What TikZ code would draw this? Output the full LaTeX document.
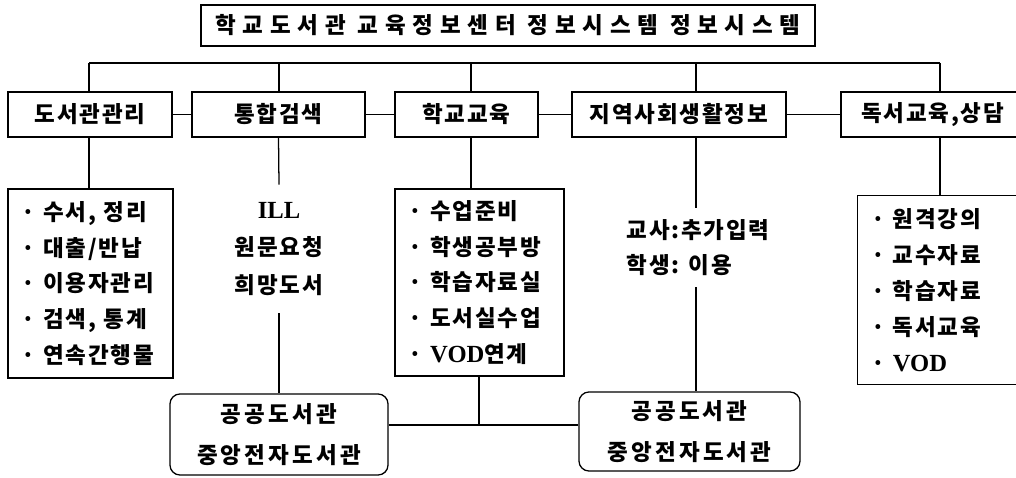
\documentclass[tikz,border=0pt]{standalone}
\usepackage{fontspec}
\setmainfont{Noto Sans CJK KR}[LetterSpace=8]
\newfontfamily\latinfont{Liberation Serif}
\usetikzlibrary{positioning}
\newcommand{\lat}[1]{{\latinfont\bfseries\fontsize{17.5}{17.5}\selectfont #1}}
\tikzset{
	box/.style={
		rectangle,
		draw,
		line width=0.9pt,
		minimum height=1.125cm,
		inner sep=0pt,
		font=\fontsize{16}{18}\selectfont\bfseries
	},
	listbox/.style={
		rectangle,
		draw,
		line width=0.9pt,
		align=left,
		inner xsep=0.35cm,
		inner ysep=0pt,
		font=\fontsize{16}{25.5}\selectfont\bfseries
	},
	plain/.style={
		inner sep=0pt,
		font=\fontsize{16}{26.5}\selectfont\bfseries
	},
	pubbox/.style={
		rectangle,
		rounded corners=0.25cm,
		draw,
		line width=0.9pt,
		align=center,
		inner sep=0pt,
		font=\fontsize{16}{29}\selectfont\bfseries\addfontfeatures{LetterSpace=14}
	},
	link/.style={
		line width=0.9pt
	}
}

\begin{document}
\begin{tikzpicture}[x=0.025cm,y=-0.025cm]
	\useasboundingbox (0,0) rectangle (1016,478);
	\node [box,minimum width=15.35cm,minimum height=1.025cm,font=\fontsize{16}{18}\selectfont\bfseries\addfontfeatures{LetterSpace=30}] (title) at (508,25.5) {학교도서관 교육정보센터 정보시스템 정보시스템};
	\node [box,minimum width=4.1cm] (mgmt) at (90,114.5) {도서관관리};
	\node [box,minimum width=4.325cm] (search) at (278.5,114.5) {통합검색};
	\node [box,minimum width=3.575cm] (school) at (466.5,114.5) {학교교육};
	\node [box,minimum width=5.35cm] (region) at (679,114.5) {지역사회생활정보};
	\node [box,minimum width=4.575cm] (reading) at (932.5,114.5) {독서교육,상담};
	\node [listbox,text width=3.425cm,minimum height=4.725cm] (mgmtlist) at (90.5,283.5) {· 수서, 정리\\· 대출/반납\\· 이용자관리\\· 검색, 통계\\· 연속간행물};
	\node [plain,align=center,minimum height=3.2cm] (searchtxt) at (279,249) {\lat{ILL}\\원문요청\\희망도서};
	\node [listbox,text width=3.525cm,minimum height=4.675cm] (schoollist) at (479.5,282.5) {· 수업준비\\· 학생공부방\\· 학습자료실\\· 도서실수업\\· \lat{VOD}연계};
	\node [plain,align=left,minimum height=1.975cm,font=\fontsize{16}{24.8}\selectfont\bfseries] (regiontxt) at (698,247.5) {교사:추가입력\\학생: 이용};
	\node [listbox,anchor=north west,text width=3.9cm,minimum height=4.725cm] (readlist) at (857,195) {· 원격강의\\· 교수자료\\· 학습자료\\· 독서교육\\· \lat{VOD}};
	\node [pubbox,minimum width=5.45cm,minimum height=2.025cm] (pubA) at (279,434.5) {공공도서관\\중앙전자도서관};
	\node [pubbox,minimum width=5.525cm,minimum height=1.975cm] (pubB) at (689.5,431.5) {공공도서관\\중앙전자도서관};
	\coordinate (d1) at (89,63);
	\coordinate (d2) at (279,63);
	\coordinate (d3) at (471,63);
	\coordinate (d4) at (696,63);
	\coordinate (d5) at (940,63);
	\coordinate (join) at (479,425);
	\draw [link] (d1) -- (d5);
	\draw [link] (d1) -- (d1 |- mgmt.north);
	\draw [link] (d2) -- (d2 |- search.north);
	\draw [link] (d3) -- (d3 |- school.north);
	\draw [link] (d4) -- (d4 |- region.north);
	\draw [link] (d5) -- (d5 |- reading.north);
	\draw [link] (mgmt.east) -- (search.west);
	\draw [link] (search.east) -- (school.west);
	\draw [link] (school.east) -- (region.west);
	\draw [link] (region.east) -- (reading.west);
	\draw [link] (d1 |- mgmt.south) -- (d1 |- mgmtlist.north);
	\draw [link] (search.south) -- (searchtxt.north);
	\draw [link] (searchtxt.south) -- (pubA.north);
	\draw [link] (d3 |- school.south) -- (d3 |- schoollist.north);
	\draw [link] (d4 |- region.south) -- (d4 |- regiontxt.north);
	\draw [link] (d4 |- regiontxt.south) -- (d4 |- pubB.north);
	\draw [link] (d5 |- reading.south) -- (d5 |- readlist.north);
	\draw [link] (join |- schoollist.south) -- (join);
	\draw [link] (pubA.east |- join) -- (pubB.west |- join);
\end{tikzpicture}
\end{document}
